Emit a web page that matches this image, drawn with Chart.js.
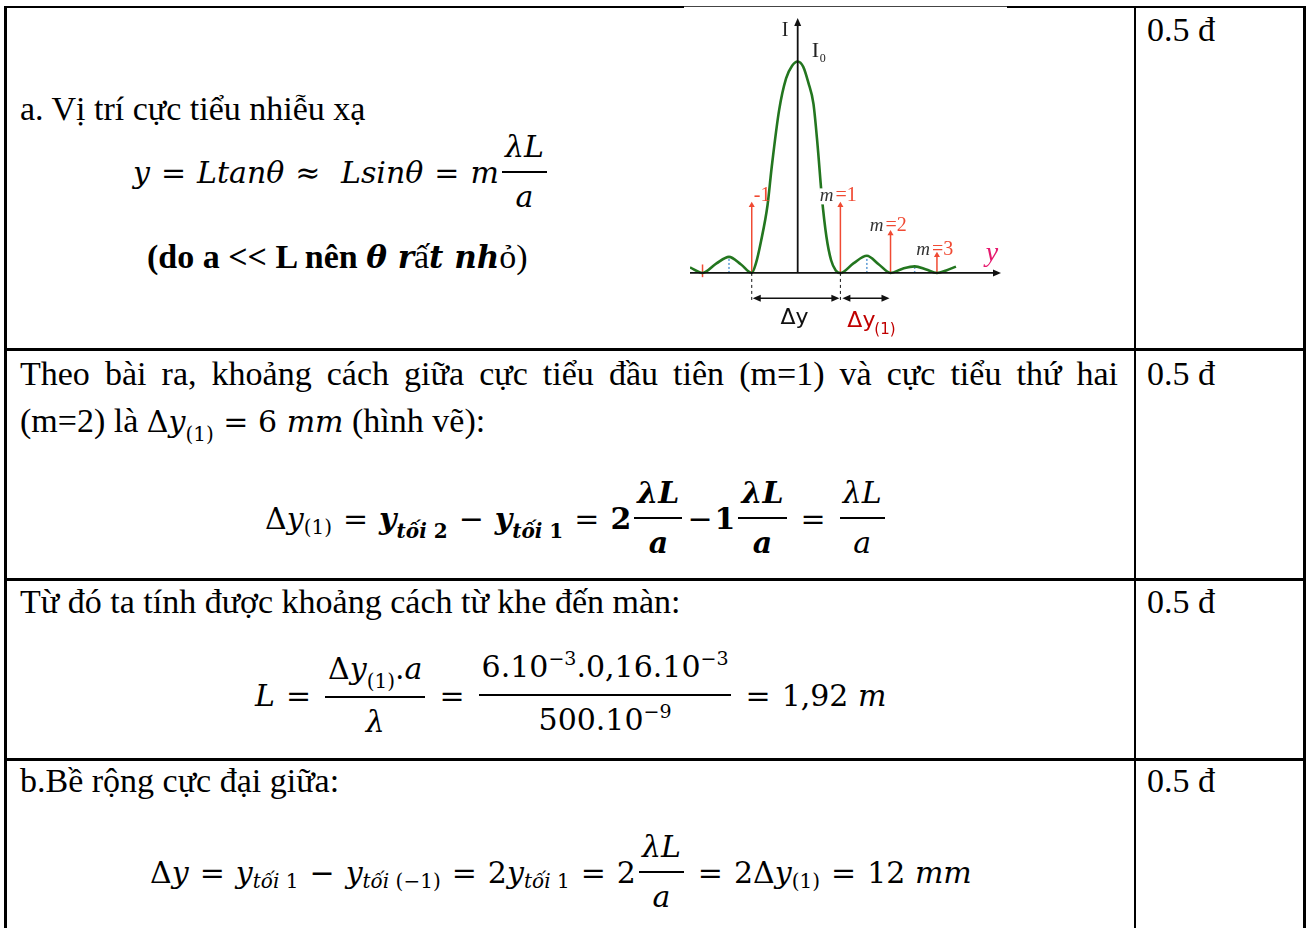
<!DOCTYPE html>
<html>
<head>
<meta charset="utf-8">
<script src="https://cdn.jsdelivr.net/npm/chart.js@4.4.1/dist/chart.umd.min.js"></script>
<style>
body{margin:0;background:#fff;width:1313px;height:928px;overflow:hidden;position:relative;font-family:'Liberation Serif',serif;color:#000}
.ln{position:absolute;background:#000}
.t{position:absolute;font-size:34px;line-height:34px;white-space:nowrap}
.mb{font-family:'DejaVu Serif',serif;font-size:31px;font-weight:bold;font-style:italic}
.eq{position:absolute;display:flex;align-items:center;white-space:nowrap;font-family:'DejaVu Serif',serif;font-size:30px;height:120px}
.eq i{font-style:italic}
.eq b{font-weight:bold}
.fr{display:inline-flex;flex-direction:column;align-items:center;margin:0 3px}
.fr>span{display:block;line-height:48px;padding:0 3px;text-align:center}
.fr>span:first-child{border-bottom:2px solid #000}
.sb{font-size:20px;position:relative;top:9px}
.sp{font-size:19px;position:relative;top:-12px}
.op{margin:0 11px}
.m{font-family:'DejaVu Serif',serif;font-size:30px}
#chartBox{position:absolute;left:685px;top:10px;width:320px;height:335px}
</style>
</head>
<body>
<!-- table borders -->
<div class="ln" style="left:4px;top:6px;width:680px;height:2px"></div>
<div class="ln" style="left:684px;top:6px;width:323px;height:1px;background:#444"></div>
<div class="ln" style="left:1007px;top:6px;width:299px;height:2px"></div>
<div class="ln" style="left:4px;top:6px;width:3px;height:922px"></div>
<div class="ln" style="left:1134px;top:6px;width:2px;height:922px"></div>
<div class="ln" style="left:1303px;top:6px;width:3px;height:922px"></div>
<div class="ln" style="left:4px;top:348px;width:1302px;height:3px"></div>
<div class="ln" style="left:4px;top:578px;width:1302px;height:3px"></div>
<div class="ln" style="left:4px;top:758px;width:1302px;height:3px"></div>

<!-- row 1 -->
<div class="t" style="left:20px;top:92px">a. Vị trí cực tiểu nhiễu xạ</div>
<div class="eq" style="left:133px;top:112px">
  <i>y</i><span class="op">=</span><i>Ltanθ</i><span class="op">≈</span>&nbsp;<i>Lsinθ</i><span class="op">=</span><i>m</i><span class="fr"><span><i>λL</i></span><span><i>a</i></span></span>
</div>
<div class="t" style="left:147px;top:240px"><b>(do a &lt;&lt; L nên <span class="mb">θ r</span></b>ấ<span class="mb">t nh</span>ỏ)</div>
<div class="t" style="left:1147px;top:13px">0.5 đ</div>
<div id="chartBox"><canvas id="chart" width="320" height="335"></canvas></div>

<!-- row 2 -->
<div class="t" style="left:20px;top:357px;width:1098px;text-align:justify;text-align-last:justify">Theo bài ra, khoảng cách giữa cực tiểu đầu tiên (m=1) và cực tiểu thứ hai</div>
<div class="t" style="left:20px;top:404px">(m=2) là <span class="m">Δ<i>y</i><span class="sb">(1)</span> = 6 <i>mm</i></span> (hình vẽ):</div>
<div class="eq" style="left:265px;top:458px">
  Δ<i>y</i><span class="sb">(1)</span><span class="op">=</span><b><i>y</i><span class="sb"><i>tối</i> 2</span></b><span class="op">−</span><b><i>y</i><span class="sb"><i>tối</i> 1</span></b><span class="op">=</span><b>2</b><span class="fr"><span><b><i>λL</i></b></span><span><b><i>a</i></b></span></span><span class="op" style="margin:0 2px">−</span><b>1</b><span class="fr"><span><b><i>λL</i></b></span><span><b><i>a</i></b></span></span><span class="op">=</span><span class="fr"><span><i>λL</i></span><span><i>a</i></span></span>
</div>
<div class="t" style="left:1147px;top:357px">0.5 đ</div>

<!-- row 3 -->
<div class="t" style="left:20px;top:585px">Từ đó ta tính được khoảng cách từ khe đến màn:</div>
<div class="eq" style="left:255px;top:635px">
  <i>L</i><span class="op">=</span><span class="fr"><span>Δ<i>y</i><span class="sb">(1)</span>.<i>a</i></span><span><i>λ</i></span></span><span class="op">=</span><span class="fr"><span>6.10<span class="sp">−3</span>.0,16.10<span class="sp">−3</span></span><span>500.10<span class="sp">−9</span></span></span><span class="op">=</span>1,92&nbsp;<i>m</i>
</div>
<div class="t" style="left:1147px;top:585px">0.5 đ</div>

<!-- row 4 -->
<div class="t" style="left:20px;top:764px">b.Bề rộng cực đại giữa:</div>
<div class="eq" style="left:150px;top:812px">
  Δ<i>y</i><span class="op">=</span><i>y</i><span class="sb"><i>tối</i> 1</span><span class="op">−</span><i>y</i><span class="sb"><i>tối</i> (−1)</span><span class="op">=</span>2<i>y</i><span class="sb"><i>tối</i> 1</span><span class="op">=</span>2<span class="fr"><span><i>λL</i></span><span><i>a</i></span></span><span class="op">=</span>2Δ<i>y</i><span class="sb">(1)</span><span class="op">=</span>12&nbsp;<i>mm</i>
</div>
<div class="t" style="left:1147px;top:764px">0.5 đ</div>

<script>
// Intensity curve (u = position in units of the first minimum, I = relative intensity)
const curveU = [-2.32, -2.05, -1.75, -1.48, -1.22, -0.99, -0.9, -0.79, -0.65, -0.56, -0.4, -0.25, -0.12, 0, 0.12, 0.23, 0.34, 0.43, 0.52, 0.62, 0.72, 0.82, 0.92, 1.2, 1.49, 1.75, 2.0, 2.26, 2.52, 2.77, 3.0, 3.2, 3.41];
const curveI = [0.026, 0, 0.045, 0.076, 0.04, 0, 0.045, 0.15, 0.32, 0.5, 0.77, 0.92, 0.98, 1, 0.975, 0.9, 0.8, 0.6, 0.36, 0.17, 0.06, 0.012, 0, 0.045, 0.081, 0.04, 0, 0.02, 0.031, 0.016, 0, 0.012, 0.03];

// Minima markers (red arrows)
const minimaLabels = ['-1', '1', '2', '3'];
const minimaU = [-0.99, 0.92, 2.0, 3.0];
const arrowTopI = [0.32, 0.32, 0.187, 0.084];
const labelI = [0.34, 0.34, 0.2, 0.085];

// Secondary maxima (blue dotted lines)
const sideMaxU = [-1.48, 1.49, 2.52];
const sideMaxI = [0.076, 0.081, 0.031];

// Small red tick at the left second minimum
const leftTickU = -2.05;
const leftTickI = [-0.02, 0.04];

const axisRangeU = [-2.32, 4.38];
const axisRangeI = [-0.322, 1.206];

const GREEN = '#23761f';
const RED = '#f04a33';

const datasets = [];
datasets.push({
    data: curveU.map((u, i) => ({ x: u, y: curveI[i] })),
    borderColor: GREEN,
    borderWidth: 2.6,
    pointRadius: 0,
    cubicInterpolationMode: 'monotone',
    order: 1
});
minimaU.forEach((u, i) => {
    datasets.push({
        data: [{ x: u, y: 0 }, { x: u, y: arrowTopI[i] }],
        borderColor: RED,
        backgroundColor: RED,
        borderWidth: 1.5,
        pointStyle: 'triangle',
        pointRadius: [0, 3.5],
        pointBorderWidth: 0,
        order: 2
    });
});
sideMaxU.forEach((u, i) => {
    datasets.push({
        data: [{ x: u, y: 0 }, { x: u, y: sideMaxI[i] }],
        borderColor: '#5b9bd5',
        borderWidth: 1.5,
        borderDash: [2, 2],
        pointRadius: 0,
        order: 3
    });
});
datasets.push({
    data: leftTickI.map(v => ({ x: leftTickU, y: v })),
    borderColor: RED,
    borderWidth: 1.5,
    pointRadius: 0,
    order: 3
});

function arrowHead(ctx, x, y, dir, len, half) {
    ctx.beginPath();
    if (dir === 'up') {
        ctx.moveTo(x, y); ctx.lineTo(x - half, y + len); ctx.lineTo(x + half, y + len);
    } else if (dir === 'right') {
        ctx.moveTo(x, y); ctx.lineTo(x - len, y - half); ctx.lineTo(x - len, y + half);
    } else {
        ctx.moveTo(x, y); ctx.lineTo(x + len, y - half); ctx.lineTo(x + len, y + half);
    }
    ctx.closePath();
    ctx.fill();
}

// Axes, arrows and labels of the sketch
const sketchPlugin = {
    id: 'sketch',
    afterDatasetsDraw(chart) {
        const ctx = chart.ctx;
        const xs = chart.scales.x, ys = chart.scales.y;
        const X = v => xs.getPixelForValue(v);
        const Y = v => ys.getPixelForValue(v);
        ctx.save();

        // white patch behind the "m" of m=1
        ctx.fillStyle = '#fff';
        ctx.fillRect(X(minimaU[1]) - 21, Y(0.4), 14, 16);

        // axes
        ctx.strokeStyle = '#111';
        ctx.fillStyle = '#111';
        ctx.lineWidth = 1.8;
        ctx.beginPath();
        ctx.moveTo(X(axisRangeU[0]), Y(0));
        ctx.lineTo(X(axisRangeU[1]) - 4, Y(0));
        ctx.moveTo(X(0), Y(0));
        ctx.lineTo(X(0), Y(axisRangeI[1]) + 4);
        ctx.stroke();
        arrowHead(ctx, X(axisRangeU[1]), Y(0), 'right', 8, 3.5);
        arrowHead(ctx, X(0), Y(axisRangeI[1]), 'up', 8, 3.5);

        // dashed guides under the first minima
        ctx.lineWidth = 1;
        ctx.setLineDash([3, 3]);
        ctx.beginPath();
        [minimaU[0], minimaU[1]].forEach(u => {
            ctx.moveTo(X(u), Y(0));
            ctx.lineTo(X(u), Y(-0.14));
        });
        ctx.stroke();
        ctx.setLineDash([]);

        // double arrows: Δy and Δy(1)
        const yArr = Y(-0.12);
        ctx.lineWidth = 1.5;
        const spans = [[minimaU[0], minimaU[1]], [minimaU[1], minimaU[2]]];
        spans.forEach(([a, b], k) => {
            const x1 = X(a) + (k ? 2 : 1), x2 = X(b) - 1;
            ctx.beginPath();
            ctx.moveTo(x1 + 6, yArr);
            ctx.lineTo(x2 - 6, yArr);
            ctx.stroke();
            arrowHead(ctx, x1, yArr, 'left', 8, 3.5);
            arrowHead(ctx, x2, yArr, 'right', 8, 3.5);
        });

        // I, I0
        ctx.fillStyle = '#222';
        ctx.font = '20px "Liberation Serif"';
        ctx.fillText('I', X(0) - 16, Y(1.12));
        ctx.font = '22px "Liberation Serif"';
        ctx.fillText('I', X(0) + 14, Y(1.02));
        ctx.font = '12px "Liberation Serif"';
        ctx.fillText('0', X(0) + 22, Y(1.0));

        // minima labels
        minimaLabels.forEach((lab, i) => {
            const xa = X(minimaU[i]);
            const y = Y(labelI[i]);
            ctx.font = '20px "Liberation Serif"';
            if (lab !== '-1') {
                ctx.fillStyle = RED;
                ctx.fillText('=' + lab, xa - 5, y);
                ctx.fillStyle = '#333';
                ctx.font = 'italic 19px "Liberation Serif"';
                const w = ctx.measureText('m').width;
                ctx.fillText('m', xa - 7 - w, y);
            } else {
                ctx.fillStyle = RED;
                ctx.fillText(lab, xa + 2, y);
            }
        });

        // y axis name
        ctx.fillStyle = '#e6196e';
        ctx.font = 'italic 28px "Liberation Serif"';
        ctx.fillText('y', X(4.05), Y(0.055));

        // Δy labels
        ctx.fillStyle = '#111';
        ctx.font = '22px "DejaVu Sans"';
        ctx.fillText('Δy', X(-0.37), Y(-0.24));
        ctx.fillStyle = '#c00000';
        ctx.fillText('Δy', X(1.07), Y(-0.255));
        ctx.font = '15px "DejaVu Sans"';
        ctx.fillText('(1)', X(1.07) + 27, Y(-0.29));

        ctx.restore();
    }
};

new Chart(document.getElementById('chart'), {
    type: 'line',
    data: { datasets: datasets },
    options: {
        responsive: false,
        animation: false,
        layout: { padding: { left: 5, right: 0, top: 8, bottom: 0 } },
        plugins: { legend: { display: false }, tooltip: { enabled: false } },
        scales: {
            x: { type: 'linear', min: axisRangeU[0], max: axisRangeU[1], display: false },
            y: { min: axisRangeI[0], max: axisRangeI[1], display: false }
        }
    },
    plugins: [sketchPlugin]
});
</script>
</body>
</html>
